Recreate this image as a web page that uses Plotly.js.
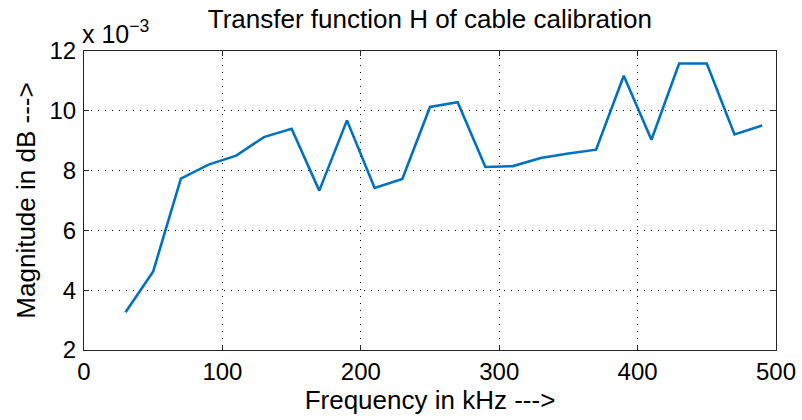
<!DOCTYPE html>
<html>
<head>
<meta charset="utf-8">
<script src="https://cdn.plot.ly/plotly-3.0.1.min.js"></script>
<style>html,body{margin:0;padding:0;background:#fff;}#chart{width:802px;height:420px;}</style>
</head>
<body>
<div id="chart"></div>
<script>
// Frequency in kHz
var frequency = [30, 50, 70, 90, 110, 130, 150, 170, 190, 210, 230, 250, 270, 290, 310, 330, 350, 370, 390, 410, 430, 450, 470, 490];
// Magnitude in units of 1e-3 (axis shows "x 10^-3")
var magnitude = [3.26, 4.63, 7.73, 8.20, 8.50, 9.12, 9.40, 7.33, 9.68, 7.42, 7.72, 10.13, 10.29, 8.12, 8.15, 8.42, 8.57, 8.70, 11.17, 9.03, 11.58, 11.58, 9.21, 9.51];
var xTicks = [0, 100, 200, 300, 400, 500];
var yTicks = [2, 4, 6, 8, 10, 12];

var FONT = 'Arial, "Liberation Sans", Helvetica, sans-serif';

var trace = {
  x: frequency,
  y: magnitude,
  type: 'scatter',
  mode: 'lines',
  line: {color: '#0072BD', width: 2.6},
  hoverinfo: 'x+y'
};

var axisCommon = {
  showline: true,
  linecolor: '#262626',
  linewidth: 1,
  mirror: 'ticks',
  ticks: 'inside',
  ticklen: 5,
  tickwidth: 1,
  tickcolor: '#262626',
  showgrid: true,
  gridcolor: '#000000',
  gridwidth: 1,
  griddash: '1px,6px',
  zeroline: false,
  tickfont: {family: FONT, size: 24, color: '#000'}
};

var layout = {
  width: 802,
  height: 420,
  margin: {l: 84, r: 26, t: 51, b: 70},
  paper_bgcolor: '#fff',
  plot_bgcolor: '#fff',
  showlegend: false,
  title: {
    text: 'Transfer function H of cable calibration',
    font: {family: FONT, size: 26, color: '#000'},
    x: 0.536, xanchor: 'center',
    y: 0.955, yanchor: 'middle'
  },
  xaxis: Object.assign({}, axisCommon, {
    range: [0, 500],
    tickvals: xTicks,
    ticktext: xTicks.map(String),
    ticklabelstandoff: 0,
    title: {text: 'Frequency in kHz --->', font: {family: FONT, size: 26, color: '#000'}, standoff: 6}
  }),
  yaxis: Object.assign({}, axisCommon, {
    range: [2, 12],
    tickvals: yTicks,
    ticktext: yTicks.map(String),
    ticklabelstandoff: 2,
    title: {text: 'Magnitude in dB --->', font: {family: FONT, size: 26, color: '#000'}, standoff: 6}
  }),
  annotations: [{
    xref: 'paper', yref: 'paper',
    x: 0, y: 1,
    xanchor: 'left', yanchor: 'bottom',
    showarrow: false,
    text: 'x 10<sup>−3</sup>',
    font: {family: FONT, size: 25, color: '#000'},
    xshift: -4,
    yshift: 1
  }]
};

Plotly.newPlot('chart', [trace], layout, {displayModeBar: false, staticPlot: true});
</script>
</body>
</html>
